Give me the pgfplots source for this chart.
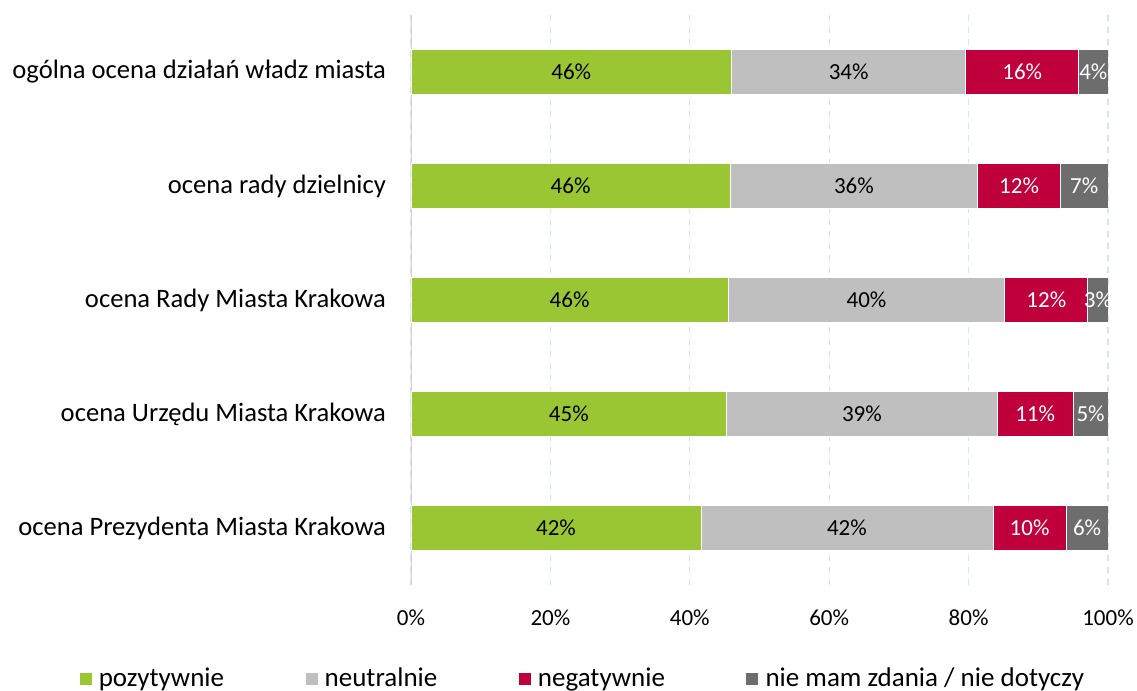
\documentclass[border=0pt]{standalone}
\usepackage{pgfplots}
\pgfplotsset{compat=1.18}
\usepackage{pgfplotstable}
\usepackage{fontspec}
\setmainfont{Carlito}
\definecolor{cpos}{HTML}{9BC634}
\definecolor{cneu}{HTML}{BFBFBF}
\definecolor{cneg}{HTML}{C0003C}
\definecolor{cnd}{HTML}{6D6D6D}
\definecolor{cgrid}{HTML}{D5E6F3}
\definecolor{caxis}{HTML}{D0D0D0}

% y: 4 = top row
\pgfplotstableread{
y x lab
4 46.0 46
3 45.8 46
2 45.5 46
1 45.3 45
0 41.6 42
}\pos
\pgfplotstableread{
y x lab
4 33.6 34
3 35.5 36
2 39.7 40
1 38.8 39
0 41.9 42
}\neu
\pgfplotstableread{
y x lab
4 16.2 16
3 11.9 12
2 11.9 12
1 10.9 11
0 10.5 10
}\neg
\pgfplotstableread{
y x lab
4 4.2 4
3 6.8 7
2 2.9 3
1 5.0 5
0 6.0 6
}\nd

\begin{document}
\begin{tikzpicture}
\path[use as bounding box] (-205.5pt,-53pt) rectangle (363pt,292.5pt);
\begin{axis}[
  at={(0,0)}, anchor=south west,
  scale only axis, width=348.5pt, height=285pt,
  xbar stacked, bar width=22.5pt,
  xmin=0, xmax=100, ymin=-0.5, ymax=4.5,
  xtick={0,20,...,100},
  xticklabel={\pgfmathprintnumber{\tick}\%},
  /pgf/number format/assume math mode=true,
  ytick={0,...,4},
  yticklabels={ocena Prezydenta Miasta Krakowa, ocena Urzędu Miasta Krakowa, ocena Rady Miasta Krakowa, ocena rady dzielnicy, ogólna ocena działań władz miasta},
  axis line style={draw=none},
  major tick length=0pt,
  xmajorgrids, grid style={cgrid, dashed, line width=0.6pt},
  tick label style={font=\fontsize{11.5}{13}\selectfont},
  yticklabel style={font=\fontsize{13.3}{15}\selectfont, xshift=-9pt},
  xticklabel style={yshift=-9pt},
  point meta=explicit,
  nodes near coords={\pgfmathprintnumber[fixed,precision=0]{\pgfplotspointmeta}\%},
  every node near coord/.append style={anchor=center, font=\fontsize{11.5}{13}\selectfont},
  legend columns=4,
  legend style={at={(0.249,-0.165)}, anchor=center, draw=none, font=\fontsize{13.5}{15}\selectfont,
    /tikz/every even column/.append style={column sep=37pt},
    /tikz/every odd column/.append style={column sep=0pt},
    nodes={inner xsep=3.2pt}},
  legend image code/.code={\fill[#1] (0pt,-3.3pt) rectangle (6.5pt,3.3pt);},
]
\addplot[fill=cpos, draw=white, line width=0.4pt] table[x=x, y=y, meta=lab] {\pos};
\addplot[fill=cneu, draw=white, line width=0.4pt] table[x=x, y=y, meta=lab] {\neu};
\addplot[fill=cneg, draw=white, line width=0.4pt, every node near coord/.append style={text=white}] table[x=x, y=y, meta=lab] {\neg};
\addplot[fill=cnd, draw=white, line width=0.4pt, every node near coord/.append style={text=white}] table[x=x, y=y, meta=lab] {\nd};
\legend{pozytywnie, neutralnie, negatywnie, nie mam zdania / nie dotyczy}
\draw[caxis, line width=0.8pt] (axis cs:0,-0.5) -- (axis cs:0,4.5);
\end{axis}
\end{tikzpicture}
\end{document}
